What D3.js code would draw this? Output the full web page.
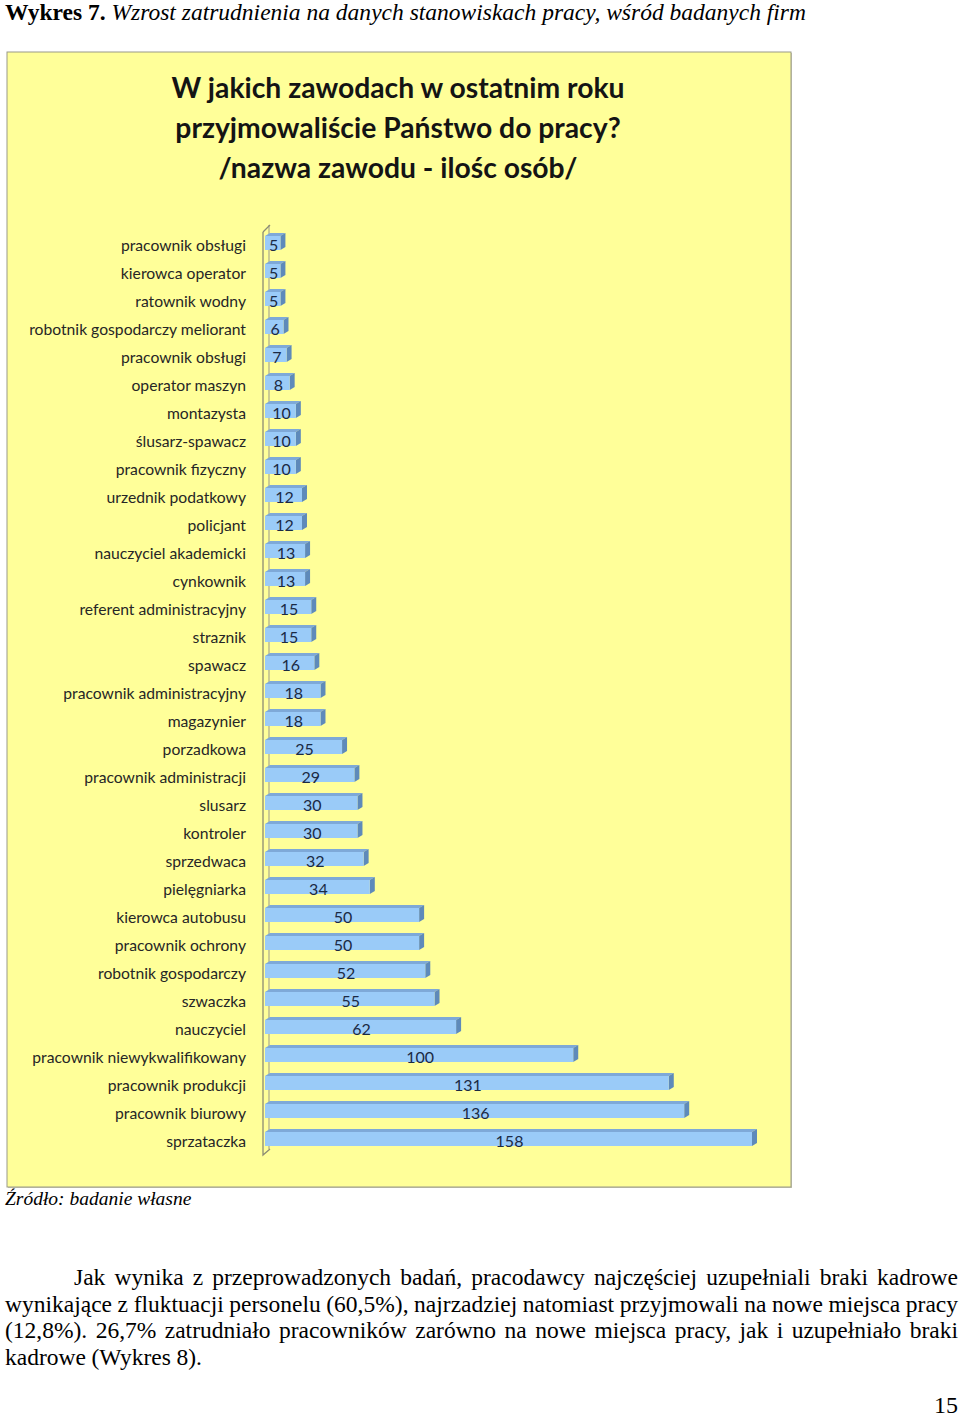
<!DOCTYPE html>
<html><head><meta charset="utf-8">
<script src="https://cdn.jsdelivr.net/npm/d3@7"></script>
<style>body{margin:0;background:#fff}svg{display:block}</style>
</head><body>
<script>
const categories = ["pracownik obsługi","kierowca operator","ratownik wodny","robotnik gospodarczy meliorant","pracownik obsługi","operator maszyn","montazysta","ślusarz-spawacz","pracownik fizyczny","urzednik podatkowy","policjant","nauczyciel akademicki","cynkownik","referent administracyjny","straznik","spawacz","pracownik administracyjny","magazynier","porzadkowa","pracownik administracji","slusarz","kontroler","sprzedwaca","pielęgniarka","kierowca autobusu","pracownik ochrony","robotnik gospodarczy","szwaczka","nauczyciel","pracownik niewykwalifikowany","pracownik produkcji","pracownik biurowy","sprzataczka"];
const values = [5,5,5,6,7,8,10,10,10,12,12,13,13,15,15,16,18,18,25,29,30,30,32,34,50,50,52,55,62,100,131,136,158];
const titleLines = ["W jakich zawodach w ostatnim roku","przyjmowaliście Państwo do pracy?","/nazwa zawodu - ilośc osób/"];
const headerBold = "Wykres 7.";
const headerItalic = " Wzrost zatrudnienia na danych stanowiskach pracy, wśród badanych firm";
const sourceText = "Źródło: badanie własne";
const paragraphLines = [
 "Jak wynika z przeprowadzonych badań, pracodawcy najczęściej uzupełniali braki kadrowe",
 "wynikające z fluktuacji personelu (60,5%), najrzadziej natomiast przyjmowali na nowe miejsca pracy",
 "(12,8%). 26,7% zatrudniało pracowników zarówno na nowe miejsca pracy, jak  i uzupełniało braki",
 "kadrowe (Wykres 8)."
];
const pageNumber = "15";

const W = 960, H = 1417;
const svg = d3.select("body").append("svg").attr("width", W).attr("height", H);
svg.append("rect").attr("width", W).attr("height", H).attr("fill", "#fff");

// header
const hdr = svg.append("text").attr("x", 5).attr("y", 20)
  .attr("font-family", "Liberation Serif").attr("font-size", 22.5).attr("fill", "#000");
hdr.append("tspan").attr("font-weight", "bold").text(headerBold);
hdr.append("tspan").attr("font-style", "italic").text(headerItalic);
hdr.attr("textLength", 801).attr("lengthAdjust", "spacingAndGlyphs");

// chart box
svg.append("rect").attr("x", 8).attr("y", 53).attr("width", 784).attr("height", 1135).attr("fill", "#c8c8b0");
svg.append("rect").attr("x", 7).attr("y", 52).attr("width", 784).attr("height", 1135)
  .attr("fill", "#FFFF99").attr("stroke", "#9a9a8a").attr("stroke-width", 1);

// title
svg.append("g").selectAll("text").data(titleLines).join("text")
  .attr("x", 398).attr("y", (d, i) => 98 + i * 40)
  .attr("text-anchor", "middle").attr("font-family", "Lato").attr("font-weight", "bold")
  .attr("font-size", 28.3).attr("fill", "#141414").text(d => d);

// scales
const idx = d3.range(categories.length);
const y = d3.scaleBand().domain(idx).range([229, 229 + 28 * categories.length]).paddingInner(0.5).paddingOuter(0.25);
const x = d3.scaleLinear().domain([0, 158]).range([265, 752]);
const dx = 5, dy = 3, fh = 14;
const cy = i => y(i) + y.bandwidth() / 2;

// axis wall
const wall = svg.append("g").attr("stroke", "#8c8c74").attr("fill", "none").attr("stroke-width", 1.3);
const yTop = 229, yBot = 1155;
wall.append("line").attr("x1", 269).attr("y1", yTop - 4).attr("x2", 269).attr("y2", yBot - 6).attr("stroke", "#b0b090");
wall.append("path").attr("d", `M263,${yTop+3}L270,${yTop-4}`);
wall.append("path").attr("d", `M263,${yTop+3}L263,${yBot}L270,${yBot-6}`);

// bars
const bars = svg.append("g").selectAll("g").data(idx).join("g");
bars.append("path").attr("fill", "#7EA9D8")
  .attr("d", i => { const t = cy(i) - 7, x1 = x(values[i]); return `M${x(0)},${t}L${x(0)+dx},${t-dy}L${x1+dx},${t-dy}L${x1},${t}Z`; });
bars.append("path").attr("fill", "#5E8ABA")
  .attr("d", i => { const t = cy(i) - 7, x1 = x(values[i]); return `M${x1},${t}L${x1+dx},${t-dy}L${x1+dx},${t-dy+fh}L${x1},${t+fh}Z`; });
bars.append("rect").attr("fill", "#9ACBF8")
  .attr("x", x(0)).attr("y", i => cy(i) - 7).attr("width", i => x(values[i]) - x(0)).attr("height", fh);
bars.append("text").attr("x", i => (x(0) + x(values[i])) / 2 + 1).attr("y", i => cy(i) + 7.5)
  .attr("text-anchor", "middle").attr("font-family", "Lato").attr("font-size", 16).attr("fill", "#1b2a44")
  .text(i => values[i]);

// category labels
const yAxis = d3.axisLeft(y).tickSize(0).tickPadding(0).tickFormat(i => categories[i]);
const ag = svg.append("g").attr("transform", "translate(246,3)").call(yAxis);
ag.select(".domain").remove();
ag.selectAll("text").attr("font-family", "Lato").attr("font-size", 15.7).attr("fill", "#262626");

// source
svg.append("text").attr("x", 5).attr("y", 1205).attr("font-family", "Liberation Serif")
  .attr("font-style", "italic").attr("font-size", 19.5).text(sourceText);

// paragraph (justified)
const pg = svg.append("g").attr("font-family", "Liberation Serif").attr("font-size", 23.5).attr("fill", "#000");
const right = 958;
paragraphLines.forEach((line, li) => {
  const x0 = li === 0 ? 74 : 5, yy = 1285 + li * 26.7;
  const words = line.split(/\s+/);
  const justify = li < paragraphLines.length - 1;
  const nodes = words.map(w => pg.append("text").attr("y", yy).text(w));
  const widths = nodes.map(n => n.node().getComputedTextLength());
  const total = d3.sum(widths);
  let gap = justify ? (right - x0 - total) / (words.length - 1) : 5.5;
  let scale = 1;
  if (gap < 5) { scale = (right - x0 - 5 * (words.length - 1)) / total; gap = 5; }
  let cx = x0;
  nodes.forEach((n, k) => {
    if (scale < 1) n.attr("textLength", widths[k] * scale).attr("lengthAdjust", "spacingAndGlyphs");
    n.attr("x", cx);
    cx += widths[k] * scale + gap;
  });
});

svg.append("text").attr("x", 958).attr("y", 1413).attr("text-anchor", "end")
  .attr("font-family", "Liberation Serif").attr("font-size", 24).text(pageNumber);
</script>
</body></html>
